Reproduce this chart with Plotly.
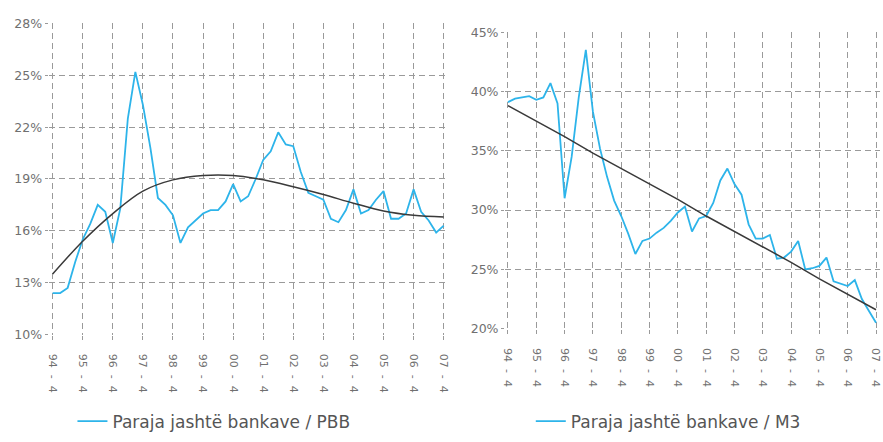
import plotly.graph_objects as go

# Quarterly observations, 1994 Q4 .. 2007 Q4 (index 0 = 1994 Q4)
quarters = list(range(53))
tick_pos = list(range(0, 53, 4))
years = ["94", "95", "96", "97", "98", "99", "00",
         "01", "02", "03", "04", "05", "06", "07"]
NB = "\u00a0"
tick_text = [f"{y}{NB}{NB}-{NB}{NB}4" for y in years]

# Currency outside banks as a share of GDP (%)
cash_gdp = [12.4, 12.4, 12.7, 14.2, 15.5, 16.4, 17.5, 17.1, 15.3, 17.3,
            22.5, 25.2, 23.3, 20.8, 17.9, 17.5, 16.9, 15.3, 16.2, 16.6,
            17.0, 17.2, 17.2, 17.7, 18.7, 17.7, 18.0, 19.0, 20.1, 20.6,
            21.7, 21.0, 20.9, 19.4, 18.2, 18.0, 17.8, 16.7, 16.5, 17.2,
            18.4, 17.0, 17.2, 17.8, 18.3, 16.7, 16.7, 17.0, 18.4, 17.1,
            16.6, 15.9, 16.3]
# Polynomial trend of the GDP ratio, read at each Q4
trend_gdp = [13.5, 15.4, 17.0, 18.3, 18.95, 19.2, 19.2, 18.95, 18.55, 18.1,
             17.6, 17.15, 16.9, 16.8]

# Currency outside banks as a share of M3 (%)
cash_m3 = [39.1, 39.4, 39.5, 39.6, 39.3, 39.5, 40.7, 39.0, 31.0, 34.5,
           39.5, 43.5, 38.3, 35.2, 32.8, 30.8, 29.5, 28.0, 26.3, 27.4,
           27.6, 28.1, 28.5, 29.1, 29.8, 30.3, 28.2, 29.3, 29.5, 30.6,
           32.5, 33.5, 32.2, 31.3, 28.8, 27.6, 27.6, 27.9, 25.9, 26.0,
           26.5, 27.4, 25.0, 25.1, 25.3, 26.0, 24.0, 23.8, 23.6, 24.1,
           22.5, 21.5, 20.5]
# Linear trend of the M3 ratio, read at each Q4
trend_m3 = [38.8, 37.5, 36.2, 34.8, 33.5, 32.2, 30.9, 29.5, 28.2, 26.9,
            25.6, 24.2, 22.9, 21.6]

left_yticks = [10, 13, 16, 19, 22, 25, 28]
right_yticks = [20, 25, 30, 35, 40, 45]

CYAN = "#2db4ea"
GRID = "#9a9a9a"
TXT = "#707070"
WIDE = "DejaVu Sans, Verdana, sans-serif"

W, H = 883, 442

fig = go.Figure()
fig.add_trace(go.Scatter(x=quarters, y=cash_gdp, mode="lines",
                         line=dict(color=CYAN, width=1.8),
                         name="Paraja jashtë bankave / PBB",
                         xaxis="x", yaxis="y", legend="legend"))
fig.add_trace(go.Scatter(x=tick_pos, y=trend_gdp, mode="lines",
                         line=dict(color="#3a3a3a", width=1.5, shape="spline", smoothing=1.0),
                         showlegend=False, xaxis="x", yaxis="y"))
fig.add_trace(go.Scatter(x=quarters, y=cash_m3, mode="lines",
                         line=dict(color=CYAN, width=1.8),
                         name="Paraja jashtë bankave / M3",
                         xaxis="x2", yaxis="y2", legend="legend2"))
fig.add_trace(go.Scatter(x=tick_pos, y=trend_m3, mode="lines",
                         line=dict(color="#3a3a3a", width=1.5),
                         showlegend=False, xaxis="x2", yaxis="y2"))

def xaxis_style(domain, rng, anchor):
    return dict(domain=domain, range=rng, anchor=anchor, tickmode="array",
                tickvals=tick_pos, ticktext=tick_text, tickangle=90,
                showgrid=True, gridcolor=GRID, griddash="6px,4px", gridwidth=1,
                zeroline=False, showline=False,
                ticks="outside", ticklen=4, tickcolor=GRID, ticklabelstandoff=12,
                tickfont=dict(family=WIDE, size=11, color=TXT))

def yaxis_style(domain, rng, ticks, anchor):
    return dict(domain=domain, range=rng, anchor=anchor, tickmode="array",
                tickvals=ticks, ticktext=[f"{t}%" for t in ticks],
                showgrid=True, gridcolor=GRID, griddash="6px,4px", gridwidth=1,
                zeroline=False, showline=False,
                ticks="outside", ticklen=3, tickcolor=GRID,
                tickfont=dict(family=WIDE, size=12.5, color=TXT))

legend_font = dict(family=WIDE, size=17, color="#555555")

fig.update_layout(
    width=W, height=H,
    margin=dict(l=0, r=0, t=0, b=0),
    paper_bgcolor="white", plot_bgcolor="white",
    xaxis=xaxis_style([45 / W, 447 / W], [-0.53, 52.5], "y"),
    yaxis=yaxis_style([1 - 338 / H, 1 - 16 / H], [10, 28], left_yticks, "x"),
    xaxis2=xaxis_style([505 / W, 1.0], [-0.42, 52.56], "y2"),
    yaxis2=yaxis_style([1 - 332 / H, 1 - 25 / H], [20, 45], right_yticks, "x2"),
    legend=dict(x=69 / W, y=1 - 428 / H, xanchor="left", yanchor="middle",
                itemwidth=30, font=legend_font, bgcolor="rgba(0,0,0,0)"),
    legend2=dict(x=531 / W, y=1 - 428 / H, xanchor="left", yanchor="middle",
                 itemwidth=30, font=legend_font, bgcolor="rgba(0,0,0,0)"),
)

fig.write_html("out.html")
